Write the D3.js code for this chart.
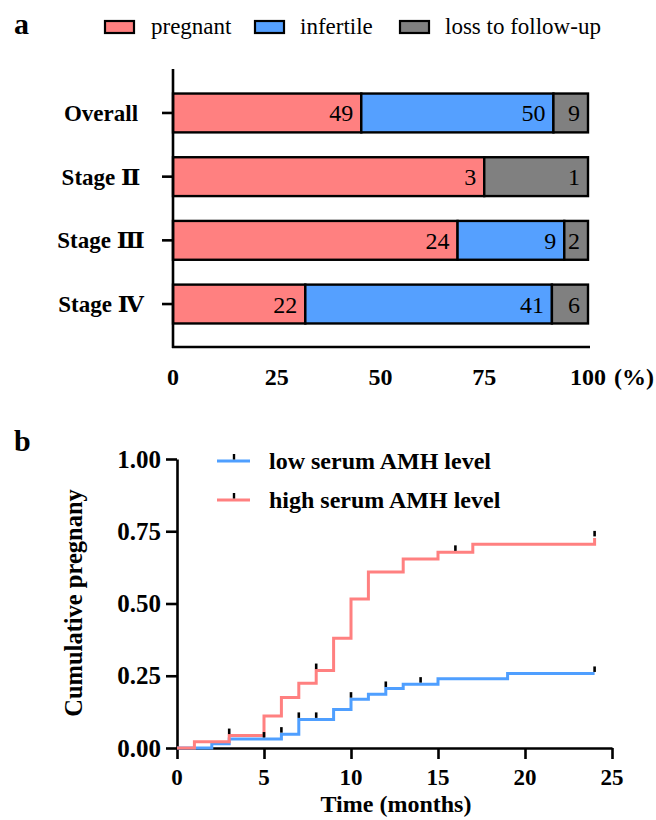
<!DOCTYPE html>
<html>
<head>
<meta charset="utf-8">
<script src="https://cdn.jsdelivr.net/npm/d3@7"></script>
<style>
  body { margin: 0; background: #fff; }
  svg text { font-family: "Liberation Serif", "Times New Roman", "DejaVu Serif", "Noto Sans CJK SC", serif; fill: #000; }
</style>
</head>
<body>
<svg id="chart" width="656" height="820"></svg>
<script>
// ---- panel a: outcome by stage (counts) ----
const stages = ["Overall", "Stage \u2161", "Stage \u2162", "Stage \u2163"];
const outcomes = ["pregnant", "infertile", "loss to follow-up"];
const pregnantN = [49, 3, 24, 22];
const infertileN = [50, 0, 9, 41];
const lossN = [9, 1, 2, 6];
const pctTicks = [0, 25, 50, 75, 100];

// ---- panel b: cumulative pregnancy (Kaplan-Meier steps) ----
const lowAMH = [[0, 0], [2, 0.015], [3, 0.031], [6, 0.048], [7, 0.099], [9, 0.133], [10, 0.169],
                [11, 0.186], [12, 0.206], [13, 0.221], [15, 0.240], [19, 0.258], [24, 0.258]];
const highAMH = [[0, 0], [1, 0.022], [3, 0.043], [5, 0.111], [6, 0.175], [7, 0.224], [8, 0.268],
                 [9, 0.380], [10, 0.516], [11, 0.609], [13, 0.654], [15, 0.677], [17, 0.705], [24, 0.727]];
const lowCensor = [5, 6, 7, 8, 10, 12, 14, 24];
const highCensor = [3, 8, 16, 24];
const monthTicks = [0, 5, 10, 15, 20, 25];
const probTicks = [0, 0.25, 0.5, 0.75, 1];

const colors = { pregnant: "#ff8080", infertile: "#55a0ff", "loss to follow-up": "#808080" };
const lineColors = { low: "#4f9fff", high: "#ff8080" };

const svg = d3.select("#chart");

function label(parent, x, y, str, size, weight, anchor) {
  return parent.append("text")
    .attr("x", x).attr("y", y)
    .attr("text-anchor", anchor || "start")
    .style("font-size", size + "px")
    .style("font-weight", weight || "normal")
    .text(str);
}

// ================= panel a =================
label(svg, 14, 34, "a", 30, "bold");

const legendA = [[105, 151], [255, 300], [400, 445]];
outcomes.forEach((k, i) => {
  svg.append("rect")
    .attr("x", legendA[i][0]).attr("y", 21).attr("width", 29).attr("height", 12)
    .attr("fill", colors[k]).attr("stroke", "#000").attr("stroke-width", 2.2);
  label(svg, legendA[i][1], 34, k, 23);
});

const rows = stages.map((s, i) => ({ stage: s, pregnant: pregnantN[i], infertile: infertileN[i], "loss to follow-up": lossN[i] }));
const stack = d3.stack().keys(outcomes).offset(d3.stackOffsetExpand)(rows);

const xa = d3.scaleLinear().domain([0, 100]).range([173, 588]);
const ya = d3.scaleBand().domain(stages).range([80.8, 336.2]).paddingInner(0.39).paddingOuter(0.2);

const gBars = svg.append("g");
stack.forEach(series => {
  const key = series.key;
  series.forEach(d => {
    const v = d.data[key];
    if (!v) return;
    const x0 = xa(d[0] * 100), x1 = xa(d[1] * 100);
    gBars.append("rect")
      .attr("x", x0).attr("y", ya(d.data.stage))
      .attr("width", x1 - x0).attr("height", ya.bandwidth())
      .attr("fill", colors[key]).attr("stroke", "#000").attr("stroke-width", 2.4);
    label(gBars, x1 - 8, ya(d.data.stage) + ya.bandwidth() / 2 + 8.5, v, 24, "normal", "end");
  });
});

// y axis (categories)
svg.append("line").attr("x1", 173).attr("x2", 173).attr("y1", 69).attr("y2", 348)
  .attr("stroke", "#000").attr("stroke-width", 2.6);
const yAxA = svg.append("g").attr("transform", "translate(173,0)")
  .call(d3.axisLeft(ya).tickSize(11).tickFormat(""));
yAxA.select(".domain").remove();
yAxA.selectAll(".tick line").attr("stroke", "#000").attr("stroke-width", 2.6);
stages.forEach(s => label(svg, 101, ya(s) + ya.bandwidth() / 2 + 8, s, 23, "bold", "middle"));

// x axis (percent)
svg.append("line").attr("x1", 172).attr("x2", 590).attr("y1", 347).attr("y2", 347)
  .attr("stroke", "#000").attr("stroke-width", 2.6);
const xAxA = svg.append("g").attr("transform", "translate(0,347)")
  .call(d3.axisBottom(xa).tickValues(pctTicks).tickSize(0).tickFormat(""));
xAxA.select(".domain").remove();
pctTicks.forEach(t => label(svg, xa(t), 385, t, 24, "bold", "middle"));
label(svg, 634, 385, "(%)", 24, "bold", "middle");

// ================= panel b =================
label(svg, 14, 451, "b", 30, "bold");

const xb = d3.scaleLinear().domain([0, 25]).range([177, 612]);
const yb = d3.scaleLinear().domain([0, 1]).range([748, 459]);

const xAxB = svg.append("g").attr("transform", "translate(0,748)")
  .call(d3.axisBottom(xb).tickValues(monthTicks).tickSize(11).tickSizeOuter(0).tickFormat(""));
const yAxB = svg.append("g").attr("transform", "translate(177,0)")
  .call(d3.axisLeft(yb).tickValues(probTicks).tickSize(11).tickSizeOuter(0).tickFormat(""));
[xAxB, yAxB].forEach(g => {
  g.select(".domain").attr("stroke", "#000").attr("stroke-width", 2.6);
  g.selectAll(".tick line").attr("stroke", "#000").attr("stroke-width", 2.6);
});
monthTicks.forEach(t => label(svg, xb(t), 785, t, 23, "bold", "middle"));
probTicks.forEach(t => label(svg, 161, yb(t) + 8.5, d3.format(".2f")(t), 25, "bold", "end"));

label(svg, 396, 812, "Time (months)", 24, "bold", "middle");
svg.append("text")
  .attr("transform", "translate(82,603) rotate(-90)")
  .attr("text-anchor", "middle")
  .style("font-size", "24.5px").style("font-weight", "bold")
  .text("Cumulative pregnany");

const step = d3.line().x(d => xb(d[0])).y(d => yb(d[1])).curve(d3.curveStepAfter);
const valueAt = (data, t) => {
  let v = 0;
  data.forEach(d => { if (d[0] <= t) v = d[1]; });
  return v;
};

const groups = [
  { name: "low", data: lowAMH, censor: lowCensor },
  { name: "high", data: highAMH, censor: highCensor }
];
groups.forEach(gr => {
  svg.append("path").datum(gr.data)
    .attr("d", step).attr("fill", "none")
    .attr("stroke", lineColors[gr.name]).attr("stroke-width", 3);
});
groups.forEach(gr => {
  svg.append("g").selectAll("line").data(gr.censor).join("line")
    .attr("x1", d => xb(d)).attr("x2", d => xb(d))
    .attr("y1", d => yb(valueAt(gr.data, d)) - 1.5)
    .attr("y2", d => yb(valueAt(gr.data, d)) - 7)
    .attr("stroke", "#000").attr("stroke-width", 2.6);
});

// legend b
const legendB = [
  { name: "low", text: "low serum AMH level", y: 461 },
  { name: "high", text: "high serum AMH level", y: 500 }
];
legendB.forEach(l => {
  svg.append("line").attr("x1", 217).attr("x2", 250).attr("y1", l.y).attr("y2", l.y)
    .attr("stroke", lineColors[l.name]).attr("stroke-width", 3);
  svg.append("line").attr("x1", 234).attr("x2", 234).attr("y1", l.y - 1.5).attr("y2", l.y - 7)
    .attr("stroke", "#000").attr("stroke-width", 2.4);
  label(svg, 269, l.y + 8, l.text, 24, "bold");
});
</script>
</body>
</html>
